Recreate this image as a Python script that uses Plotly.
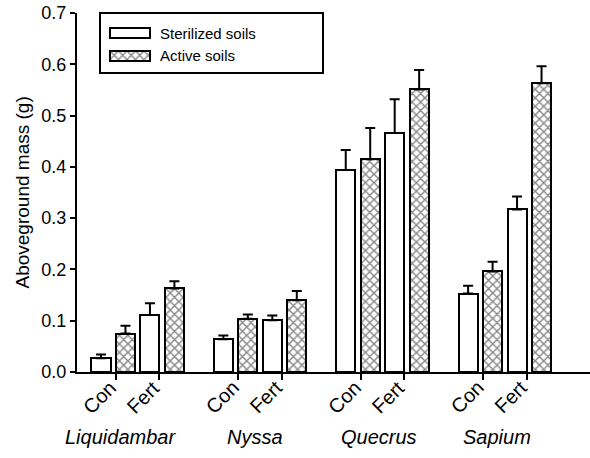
import plotly.graph_objects as go

# ---------------- data ----------------
species = ["Liquidambar", "Nyssa", "Quecrus", "Sapium"]
treatments = ["Con", "Fert"]
# ordered species x treatment: Liq-Con, Liq-Fert, Nys-Con, Nys-Fert, ...
sterilized_mean = [0.027, 0.111, 0.064, 0.101, 0.394, 0.466, 0.153, 0.317]
sterilized_se = [0.007, 0.023, 0.007, 0.009, 0.039, 0.066, 0.015, 0.025]
active_mean = [0.075, 0.163, 0.104, 0.140, 0.415, 0.551, 0.196, 0.563]
active_se = [0.015, 0.014, 0.008, 0.018, 0.061, 0.038, 0.019, 0.033]
y_ticks = [0.0, 0.1, 0.2, 0.3, 0.4, 0.5, 0.6, 0.7]

# ---------------- layout helpers ----------------
GROUP_STEP = 5
BAR_W = 0.78
FONT = "Liberation Sans, Arial, sans-serif"
HATCH = dict(shape="x", size=6, solidity=0.42, fgcolor="#111", bgcolor="white")

ster_x, act_x = [], []
for g in range(len(species)):
    for t in range(len(treatments)):
        ster_x.append(g * GROUP_STEP + 2 * t)
        act_x.append(g * GROUP_STEP + 2 * t + 1)

tickvals, ticktext = [], []
for g in range(len(species)):
    tickvals += [g * GROUP_STEP + 1 - BAR_W / 2, g * GROUP_STEP + 2 + BAR_W / 2]
    ticktext += treatments

label_offsets = [0.80, 1.29, 1.36, 1.18]

fig = go.Figure()

err_style = dict(type="data", symmetric=False, color="black", thickness=2, width=5)

fig.add_trace(go.Bar(
    x=ster_x, y=sterilized_mean, width=BAR_W, name="Sterilized soils",
    marker=dict(color="white", line=dict(color="black", width=2)),
    error_y=dict(array=sterilized_se, arrayminus=[0] * len(sterilized_se), **err_style),
    showlegend=False,
))
fig.add_trace(go.Bar(
    x=act_x, y=active_mean, width=BAR_W, name="Active soils",
    marker=dict(color="white", line=dict(color="black", width=2), pattern=HATCH),
    error_y=dict(array=active_se, arrayminus=[0] * len(active_se), **err_style),
    showlegend=False,
))

# legend swatch for the patterned series (drawn in a tiny inset axis)
fig.add_trace(go.Bar(
    x=[1], y=[0], orientation="h", width=1, xaxis="x2", yaxis="y2",
    marker=dict(color="white", line=dict(width=0), pattern=HATCH),
    showlegend=False, hoverinfo="skip",
))

PLOT_L, PLOT_W, PLOT_T, PLOT_H = 77, 513, 13, 359


def px_x(px):
    return (px - PLOT_L) / PLOT_W


def px_y(py):
    return (PLOT_T + PLOT_H - py) / PLOT_H


shapes = [
    # legend box
    dict(type="rect", xref="paper", yref="paper", x0=px_x(100), x1=px_x(323),
         y0=px_y(73), y1=px_y(13), line=dict(color="black", width=2), fillcolor="rgba(0,0,0,0)"),
    # sterilized swatch
    dict(type="rect", xref="paper", yref="paper", x0=px_x(110), x1=px_x(150),
         y0=px_y(38), y1=px_y(28), line=dict(color="black", width=2), fillcolor="white"),
    # active swatch border
    dict(type="rect", xref="paper", yref="paper", x0=px_x(110), x1=px_x(150),
         y0=px_y(61), y1=px_y(51), line=dict(color="black", width=2), fillcolor="rgba(0,0,0,0)"),
]

annotations = [
    dict(text="Sterilized soils", xref="paper", yref="paper", x=px_x(158), y=px_y(33),
         xanchor="left", yanchor="middle", showarrow=False, font=dict(family=FONT, size=15, color="black")),
    dict(text="Active soils", xref="paper", yref="paper", x=px_x(158), y=px_y(56),
         xanchor="left", yanchor="middle", showarrow=False, font=dict(family=FONT, size=15, color="black")),
    dict(text="Aboveground mass (g)", xref="paper", yref="paper", x=px_x(22), y=0.5,
         textangle=-90, xanchor="center", yanchor="middle", showarrow=False,
         font=dict(family=FONT, size=19, color="black")),
]
# rotated treatment labels under each tick
for tv, tt in zip(tickvals, ticktext):
    annotations.append(dict(
        text=tt, xref="x", yref="paper", x=tv, y=0, xshift=-16, yshift=-25,
        textangle=-45, xanchor="center", yanchor="middle", showarrow=False,
        font=dict(family=FONT, size=20, color="black")))
for g, sp in enumerate(species):
    annotations.append(dict(
        text=f"<i>{sp}</i>", xref="x", yref="paper", x=g * GROUP_STEP + label_offsets[g], y=px_y(437),
        xanchor="center", yanchor="middle", showarrow=False,
        font=dict(family=FONT, size=20, color="black")))

fig.update_layout(
    width=590, height=458,
    margin=dict(l=PLOT_L, r=590 - PLOT_L - PLOT_W, t=PLOT_T, b=458 - PLOT_T - PLOT_H, pad=0),
    paper_bgcolor="white", plot_bgcolor="white",
    barmode="overlay", bargap=0,
    font=dict(family=FONT, color="black"),
    xaxis=dict(range=[-0.98, 19.98], showline=True, linecolor="black", linewidth=2,
               ticks="outside", ticklen=6, tickwidth=1.5, tickcolor="black",
               tickvals=tickvals, ticktext=ticktext, showticklabels=False,
               showgrid=False, zeroline=False, automargin=False),
    yaxis=dict(range=[0, 0.7], showline=True, linecolor="black", linewidth=2,
               ticks="outside", ticklen=5, tickwidth=1.5, tickcolor="black",
               tickvals=y_ticks, tickformat=".1f",
               tickfont=dict(family=FONT, size=18, color="black"),
               showgrid=False, zeroline=False, automargin=False),
    xaxis2=dict(domain=[px_x(110), px_x(150)], anchor="y2", range=[0, 1], visible=False, fixedrange=True),
    yaxis2=dict(domain=[px_y(61), px_y(51)], anchor="x2", range=[-0.5, 0.5], visible=False, fixedrange=True),
    shapes=shapes,
    annotations=annotations,
)

fig.write_html("out.html")
